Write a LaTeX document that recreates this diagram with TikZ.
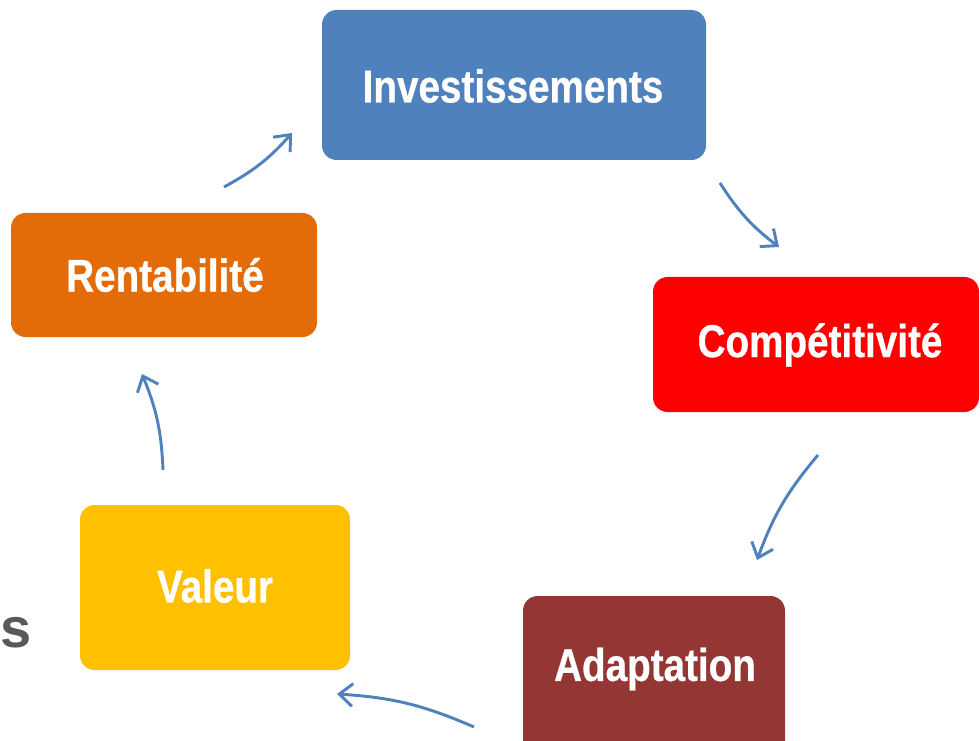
\documentclass[tikz,border=0pt]{standalone}
\usepackage{fontspec}
\setmainfont{Liberation Sans}[FakeStretch=0.84,FakeBold=0.6]
\newfontfamily\widefont{Liberation Sans}
\usetikzlibrary{arrows.meta}
\definecolor{cblue}{HTML}{4F81BD}
\definecolor{cred}{HTML}{FF0000}
\definecolor{cbrown}{HTML}{943634}
\definecolor{cyellow}{HTML}{FFC000}
\definecolor{corange}{HTML}{E36C09}
\definecolor{cgray}{HTML}{595959}
\begin{document}
\begin{tikzpicture}[x=0.75pt,y=-0.75pt,
  lbl/.style={text=white, font=\fontsize{34.5}{40}\selectfont\bfseries},
  cyc/.style={draw=cblue, line width=2.2pt, -{Straight Barb[length=10pt,width=17pt,line width=2.2pt]}}]
\useasboundingbox (0,0) rectangle (980,741);
\fill[cblue, rounded corners=11pt] (322,10) rectangle (706,160);
\node[lbl] (inv) at (513,86) {Investissements};
\fill[cred, rounded corners=11pt] (653,277) rectangle (979,412);
\node[lbl] (comp) at (820,345) {Compétitivité};
\fill[cbrown, rounded corners=11pt] (523,596) rectangle (785,760);
\node[lbl] (adap) at (655,669) {Adaptation};
\fill[cyellow, rounded corners=11pt] (80,505) rectangle (350,670);
\node[lbl] (val) at (215,586) {Valeur};
\fill[corange, rounded corners=11pt] (11,213) rectangle (317,337);
\node[lbl] (rent) at (165,275) {Rentabilité};
\node[anchor=base east, inner sep=0pt, text=cgray, font=\widefont\fontsize{42}{46}\selectfont\bfseries] (s) at (32,647) {s};
\coordinate (a1s) at (224,187); \coordinate (a1e) at (292,133);
\coordinate (a2s) at (720,183); \coordinate (a2e) at (779,247);
\coordinate (a3s) at (818,455); \coordinate (a3e) at (757,560);
\coordinate (a4s) at (474,727); \coordinate (a4e) at (337,694);
\coordinate (a5s) at (163,470); \coordinate (a5e) at (142,374);
\draw[cyc] (a1s) to[bend right=10] (a1e);
\draw[cyc] (a2s) to[bend right=10] (a2e);
\draw[cyc] (a3s) to[bend right=10] (a3e);
\draw[cyc] (a4s) to[bend right=10] (a4e);
\draw[cyc] (a5s) to[bend right=10] (a5e);
\end{tikzpicture}
\end{document}
